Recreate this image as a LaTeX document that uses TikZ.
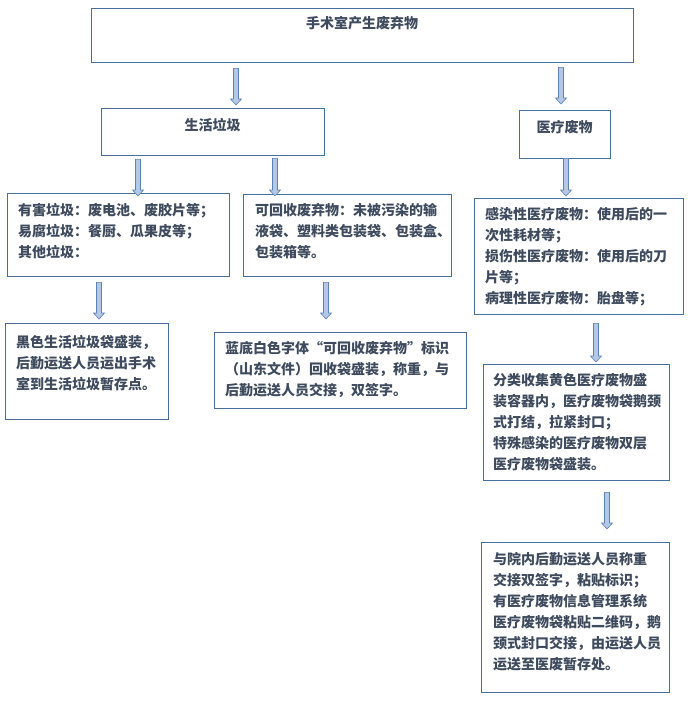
\documentclass[tikz,border=0pt]{standalone}
\usepackage{fontspec}
\setmainfont{Noto Sans CJK SC}
\usetikzlibrary{calc}
\definecolor{frame}{HTML}{41719C}
\definecolor{ink}{HTML}{3E4A5D}
\definecolor{arrfill}{HTML}{B4C8E6}
\definecolor{arrline}{HTML}{5A82B6}
\tikzset{line width=.9pt,
  every node/.style={font=\fontsize{14pt}{21pt}\selectfont\bfseries,text=ink},
  wbox/.style={draw=frame,inner ysep=0pt,anchor=north west,align=left},
  headbox/.style={wbox,inner xsep=0pt,align=center},
  blockarr/.style={draw=arrline,fill=arrfill,line width=.6pt,
    to path={let \p1=(\tikztostart),\p2=(\tikztotarget) in
      (\x1-2.5pt,\y1)--(\x1+2.5pt,\y1)--(\x1+2.5pt,\y2+6pt)--(\x1+5.5pt,\y2+6pt)
      --(\x1,\y2)--(\x1-5.5pt,\y2+6pt)--(\x1-2.5pt,\y2+6pt)--cycle}}}

\begin{document}
\begin{tikzpicture}[x=1pt,y=-1pt]
\useasboundingbox (0,0) rectangle (690,706);
\node[headbox,text width=542pt,text height=20pt,text depth=34pt] (top) at (91,8) {手术室产生废弃物};
\node[headbox,text width=223pt,text height=22pt,text depth=25pt] (life) at (101,108) {生活垃圾};
\node[headbox,text width=91pt,text height=22pt,text depth=26pt] (med) at (519,110) {医疗废物};
\node[wbox,inner xsep=11pt,text width=200pt,text height=22pt,text depth=61pt] (harm) at (7,193)
  {有害垃圾：废电池、废胶片等；\\易腐垃圾：餐厨、瓜果皮等；\\其他垃圾：};
\node[wbox,inner xsep=12pt,text width=184pt,text height=21pt,text depth=61pt] (recyc) at (243,194)
  {可回收废弃物：未被污染的输\\液袋、塑料类包装袋、包装盒、\\包装箱等。};
\node[wbox,inner xsep=11pt,text width=187pt,text height=21pt,text depth=95pt] (medtype) at (474,198)
  {感染性医疗废物：使用后的一\\次性耗材等；\\损伤性医疗废物：使用后的刀\\片等；\\病理性医疗废物：胎盘等；};
\node[wbox,inner xsep=11pt,text width=141pt,text height=24pt,text depth=72pt] (blackbag) at (5,323)
  {黑色生活垃圾袋盛装，\\后勤运送人员运出手术\\室到生活垃圾暂存点。};
\node[wbox,inner xsep=11pt,text width=230pt,text height=21pt,text depth=55pt] (bluebag) at (214,332)
  {蓝底白色字体“可回收废弃物”标识\\（山东文件）回收袋盛装，称重，与\\后勤运送人员交接，双签字。};
\node[wbox,inner xsep=10pt,text width=166pt,text height=21pt,text depth=95pt] (sortbag) at (483,364)
  {分类收集黄色医疗废物盛\\装容器内，医疗废物袋鹅颈\\式打结，拉紧封口；\\特殊感染的医疗废物双层\\医疗废物袋盛装。};
\node[wbox,inner xsep=12pt,text width=164pt,text height=22pt,text depth=128pt] (handover) at (481,542)
  {与院内后勤运送人员称重\\交接双签字，粘贴标识；\\有医疗废物信息管理系统\\医疗废物袋粘贴二维码，鹅\\颈式封口交接，由运送人员\\运送至医废暂存处。};
\draw[blockarr] ($(top.south -| 236,0)+(0,6)$) to ($(life.north -| 236,0)+(0,-3)$);
\draw[blockarr] ($(top.south -| 561,0)+(0,5)$) to ($(med.north -| 561,0)+(0,-6)$);
\draw[blockarr] ($(life.south -| 138,0)+(0,4)$) to ($(harm.north -| 138,0)+(0,3)$);
\draw[blockarr] ($(life.south -| 275,0)+(0,3)$) to ($(recyc.north -| 275,0)+(0,2)$);
\draw[blockarr] ($(med.south -| 566,0)+(0,0)$) to ($(medtype.north -| 566,0)+(0,-2)$);
\draw[blockarr] ($(harm.south -| 99,0)+(0,6)$) to ($(blackbag.north -| 99,0)+(0,-4)$);
\draw[blockarr] ($(recyc.south -| 326,0)+(0,6)$) to ($(bluebag.north -| 326,0)+(0,-13)$);
\draw[blockarr] ($(medtype.south -| 596,0)+(0,9)$) to ($(sortbag.north -| 596,0)+(0,-2)$);
\draw[blockarr] ($(sortbag.south -| 607,0)+(0,12)$) to ($(handover.north -| 607,0)+(0,-13)$);
\end{tikzpicture}
\end{document}
